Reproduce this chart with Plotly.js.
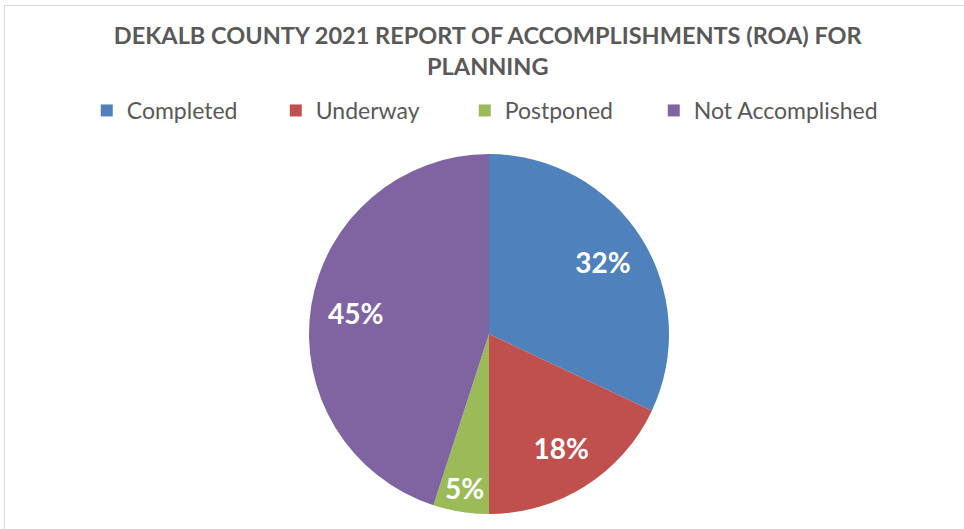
<!DOCTYPE html>
<html>
<head>
<meta charset="utf-8">
<script src="https://cdn.plot.ly/plotly-3.0.1.min.js"></script>
<style>
  html, body { margin: 0; padding: 0; background: #ffffff; overflow: hidden; }
  #frame { position: absolute; left: 4px; top: 5px; width: 980px; height: 540px; border: 1px solid #d9d9d9; }
  #chart { position: absolute; left: 0; top: 0; width: 964px; height: 529px; }
</style>
</head>
<body>
<div id="frame"></div>
<div id="chart"></div>
<script>
const categories = ["Completed", "Underway", "Postponed", "Not Accomplished"];
const percentages = [32, 18, 5, 45];
const sliceColors = ["#4f81bd", "#c0504d", "#9bbb59", "#8064a2"];
const chartTitle = "DEKALB COUNTY 2021 REPORT OF ACCOMPLISHMENTS (ROA) FOR<br>PLANNING";

const W = 964, H = 529;
const cx = 489, cy = 334, r = 180;
const FONT = "Lato, 'Open Sans', sans-serif";
const pieDomain = {
  x: [(cx - r) / W, (cx + r) / W],
  y: [(H - cy - r) / H, (H - cy + r) / H]
};

// Filled slices (no text)
const slices = {
  type: "pie",
  labels: categories,
  values: percentages,
  sort: false,
  direction: "clockwise",
  rotation: 0,
  marker: { colors: sliceColors, line: { color: "#ffffff", width: 0 } },
  textinfo: "none",
  hoverinfo: "label+percent",
  domain: pieDomain
};

// Transparent ring carrying the percentage labels toward the outer part of each slice
const labelRing = {
  type: "pie",
  labels: categories,
  values: percentages,
  sort: false,
  direction: "clockwise",
  rotation: 0,
  hole: 0.5,
  showlegend: false,
  marker: { colors: categories.map(function () { return "rgba(0,0,0,0)"; }), line: { width: 0 } },
  textinfo: "percent",
  texttemplate: "%{value}%",
  textposition: "inside",
  insidetextorientation: "horizontal",
  textfont: { family: FONT, size: 28, color: "#ffffff", weight: "bold" },
  hoverinfo: "skip",
  domain: pieDomain
};

const layout = {
  width: W,
  height: H,
  margin: { l: 0, r: 0, t: 0, b: 0 },
  paper_bgcolor: "rgba(0,0,0,0)",
  plot_bgcolor: "rgba(0,0,0,0)",
  title: {
    text: chartTitle,
    font: { family: FONT, size: 23.5, color: "#595959", weight: "bold" },
    x: 0.506,
    xanchor: "center",
    y: 1 - 44 / H,
    yanchor: "top"
  },
  showlegend: true,
  legend: {
    orientation: "h",
    x: 0.09,
    xanchor: "left",
    y: 1 - 89 / H,
    yanchor: "top",
    font: { family: FONT, size: 23, color: "#595959" },
    entrywidth: 144,
    entrywidthmode: "pixels",
    itemwidth: 30,
    traceorder: "normal"
  },
  uniformtext: { mode: "show", minsize: 28 }
};

Plotly.newPlot("chart", [slices, labelRing], layout, { displayModeBar: false, staticPlot: true }).then(function (gd) {
  document.querySelectorAll("#chart .legend .scrollbox").forEach(function (el) { el.removeAttribute("clip-path"); });
});
</script>
</body>
</html>
